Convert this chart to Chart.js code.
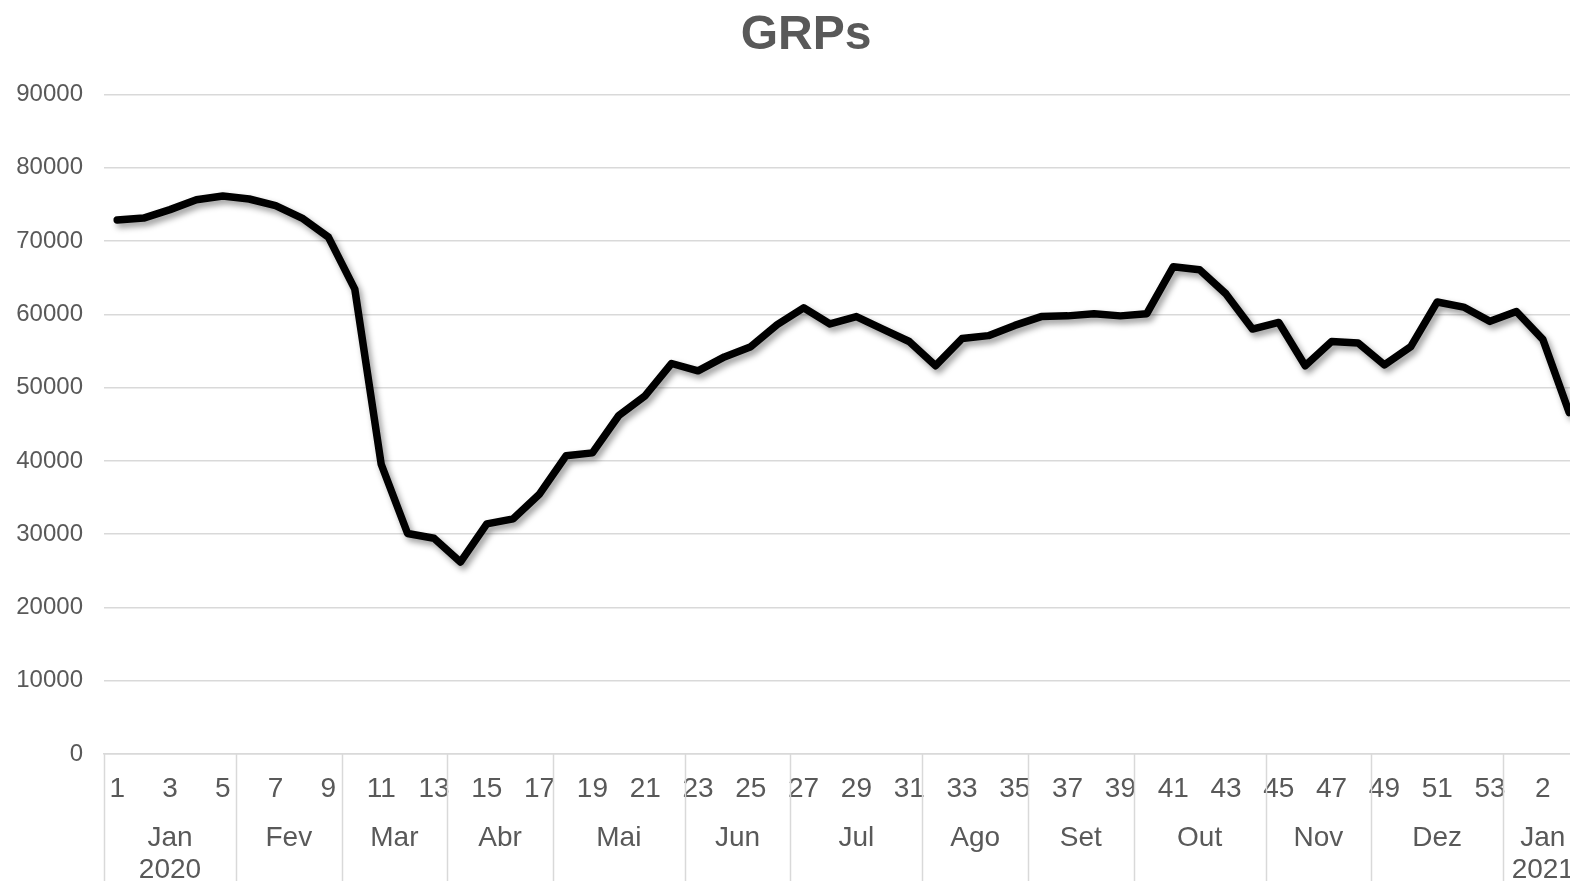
<!DOCTYPE html>
<html>
<head>
<meta charset="utf-8">
<script src="https://cdn.jsdelivr.net/npm/chart.js@4.4.1/dist/chart.umd.min.js"></script>
<style>
html,body{margin:0;padding:0;overflow:hidden;background:#fff;width:1570px;height:881px}
#wrap{position:absolute;left:0;top:0;width:1612px;height:881px}
</style>
</head>
<body>
<div id="wrap"><canvas id="c" width="1612" height="881"></canvas></div>
<script>
// ---- data ----
const weekLabels = [
  '1','2','3','4','5','6','7','8','9','10','11','12','13','14','15','16','17','18','19','20',
  '21','22','23','24','25','26','27','28','29','30','31','32','33','34','35','36','37','38','39','40',
  '41','42','43','44','45','46','47','48','49','50','51','52','53',
  '1','2','3'
];
const grps = [
  72900, 73150, 74300, 75650, 76150, 75750, 74850, 73150, 70550, 63450,
  39550, 30100, 29450, 26200, 31400, 32100, 35500, 40700, 41100, 46200,
  48900, 53300, 52300, 54200, 55600, 58600, 60900, 58700, 59700, 58000,
  56300, 53000, 56700, 57100, 58500, 59700, 59800, 60100, 59800, 60100,
  66500, 66100, 62800, 58000, 58900, 53000, 56300, 56100, 53100, 55600,
  61700, 61000, 59050, 60400, 56600, 46600
];
const monthNames = ['Jan','Fev','Mar','Abr','Mai','Jun','Jul','Ago','Set','Out','Nov','Dez','Jan'];
const monthWeekCounts = [5,4,4,4,5,4,5,4,4,5,4,5,3];
const yearNames = ['2020','','','','','','','','','','','','2021'];
const yMin = 0, yMax = 90000, yStep = 10000;
const chartTitle = 'GRPs';

// ---- styles ----
const FONT = "'Liberation Sans', Arial, sans-serif";
const TEXT = '#595959';
const GRID = '#d9d9d9';

const lineShadow = {
  id: 'lineShadow',
  beforeDatasetDraw(chart) {
    const ctx = chart.ctx;
    ctx.save();
    ctx.shadowColor = 'rgba(0,0,0,0.4)';
    ctx.shadowBlur = 6;
    ctx.shadowOffsetX = 3;
    ctx.shadowOffsetY = 4;
  },
  afterDatasetDraw(chart) {
    chart.ctx.restore();
  }
};

const monthGroups = {
  id: 'monthGroups',
  afterDraw(chart) {
    const x = chart.scales.x;
    const ctx = chart.ctx;
    const top = chart.chartArea.bottom;
    const bottom = chart.height;
    ctx.save();
    ctx.strokeStyle = GRID;
    ctx.lineWidth = 1.5;
    ctx.fillStyle = TEXT;
    ctx.font = '28px ' + FONT;
    ctx.textAlign = 'center';
    ctx.textBaseline = 'middle';
    let start = 0;
    monthNames.forEach((m, i) => {
      const end = start + monthWeekCounts[i] - 1;
      const l = x.getPixelForValue(start - 0.5);
      const r = x.getPixelForValue(end + 0.5);
      ctx.beginPath();
      ctx.moveTo(Math.round(l) + 0.5, top);
      ctx.lineTo(Math.round(l) + 0.5, bottom);
      ctx.stroke();
      if (i === monthNames.length - 1) {
        ctx.beginPath();
        ctx.moveTo(Math.round(r) + 0.5, top);
        ctx.lineTo(Math.round(r) + 0.5, bottom);
        ctx.stroke();
      }
      const cx = (l + r) / 2;
      ctx.fillText(m, cx, top + 84);
      if (yearNames[i]) ctx.fillText(yearNames[i], cx, top + 116);
      start = end + 1;
    });
    ctx.restore();
  }
};

new Chart(document.getElementById('c'), {
  type: 'line',
  data: {
    labels: weekLabels,
    datasets: [{
      data: grps,
      borderColor: '#000000',
      borderWidth: 7.5,
      borderCapStyle: 'round',
      borderJoinStyle: 'round',
      pointRadius: 0,
      pointHoverRadius: 0,
      tension: 0,
      fill: false
    }]
  },
  options: {
    responsive: false,
    animation: false,
    devicePixelRatio: 1,
    events: [],
    layout: { padding: 0 },
    plugins: {
      legend: { display: false },
      tooltip: { enabled: false },
      title: {
        display: true,
        text: chartTitle,
        color: TEXT,
        font: { family: FONT, size: 48, weight: 'bold', lineHeight: 1.2 },
        padding: { top: 7, bottom: 30 }
      }
    },
    scales: {
      x: {
        type: 'category',
        offset: true,
        grid: { display: false, drawTicks: false },
        border: { display: true, color: GRID, width: 1.5 },
        ticks: {
          autoSkip: false,
          maxRotation: 0,
          minRotation: 0,
          padding: 18,
          color: TEXT,
          font: { family: FONT, size: 28, lineHeight: 1.2 },
          callback: function (v, i) { return i % 2 === 0 ? weekLabels[i] : ''; }
        },
        afterFit(s) { s.height = 127; }
      },
      y: {
        min: yMin,
        max: yMax,
        grid: { color: GRID, lineWidth: 1.5, drawTicks: false },
        border: { display: false },
        ticks: {
          stepSize: yStep,
          padding: 21,
          color: TEXT,
          font: { family: FONT, size: 24 },
          callback: v => String(v)
        },
        afterFit(s) { s.width = 104; }
      },
      y2: {
        position: 'right',
        display: true,
        grid: { display: false, drawTicks: false },
        border: { display: false },
        ticks: { display: false },
        afterFit(s) { s.width = 29.6; }
      }
    }
  },
  plugins: [lineShadow, monthGroups]
});
</script>
</body>
</html>
